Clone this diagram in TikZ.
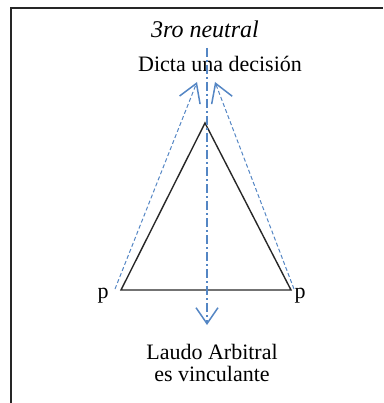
\documentclass[tikz,border=0pt]{standalone}
\usepackage{fontspec}
\setmainfont{Liberation Serif}
\usetikzlibrary{arrows.meta}

\definecolor{axisblue}{RGB}{84,134,196}
\definecolor{edgegray}{RGB}{40,40,40}

\begin{document}
\begin{tikzpicture}[
  x=1pt, y=-1pt,
  font=\fontsize{22}{22}\selectfont,
  txt/.style={inner sep=0pt, align=center},
  side/.style={draw=edgegray, line width=1.4pt, line join=miter},
  push/.style={draw=axisblue, line width=1pt, dash pattern=on 4pt off 2.5pt,
               -{Straight Barb[length=18pt,width=22pt,line width=1.5pt]}},
  axis/.style={draw=axisblue, line width=1.1pt,
               dash pattern=on 9pt off 3pt on 2pt off 3pt,
               -{Straight Barb[length=16pt,width=22pt,line width=1.5pt]}},
  frame/.style={draw=black!85, line width=2pt}
]
\useasboundingbox (0,0) rectangle (383,403);

% open frame (top and left only)
\draw[frame] (11,403) -- (11,8) -- (383,8);

% labels
\node[txt, font=\fontsize{24}{24}\selectfont\itshape] (neutral) at (205,29) {3ro neutral};
\node[txt] (decide) at (220,64) {Dicta una decisión};
\node[txt] (pleft) at (103,296) {p};
\node[txt] (pright) at (300,296) {p};
\node[txt] (award) at (212,363) {Laudo Arbitral\\es vinculante};

% triangle of the parties and the third
\coordinate (apex) at (205,123);
\coordinate (baseL) at (121,290);
\coordinate (baseR) at (291,290);
\draw[side] (baseL) -- (apex) -- (baseR) -- cycle;

% parties push towards the decision
\coordinate (footL) at (115,289);
\coordinate (tipL) at (197,82);
\coordinate (footR) at (294,289);
\coordinate (tipR) at (215,82);
\draw[push] (footL) -- (tipL);
\draw[push] (footR) -- (tipR);

% axis of the neutral third
\coordinate (axtop) at (207,48);
\coordinate (axbot) at (207,325);
\draw[axis] (axtop) -- (axbot);

\end{tikzpicture}
\end{document}
